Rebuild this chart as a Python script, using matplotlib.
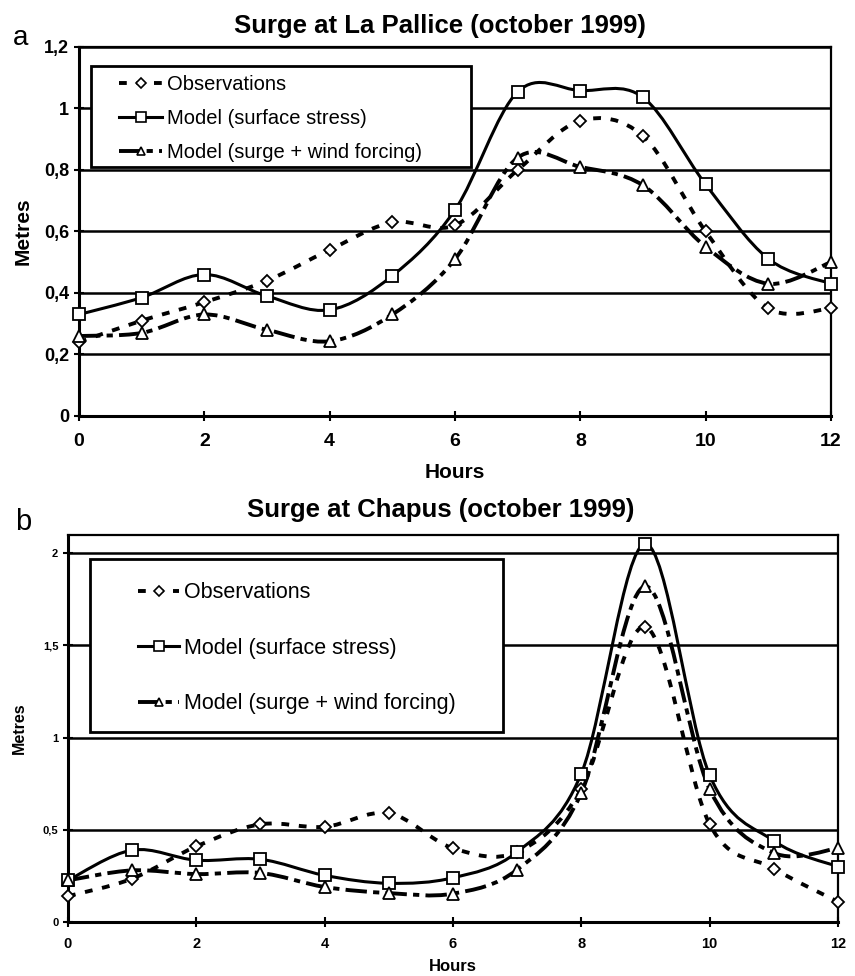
import matplotlib
matplotlib.use("Agg")
import matplotlib.pyplot as plt
import numpy as np
from matplotlib.path import Path
from matplotlib.patches import PathPatch, Rectangle
from matplotlib.lines import Line2D

plt.rcParams['font.family'] = ['Liberation Sans', 'DejaVu Sans']

hours = list(range(13))

# La Pallice (panel a)
pallice_obs = [0.24, 0.31, 0.37, 0.44, 0.54, 0.63, 0.62, 0.80, 0.96, 0.91, 0.60, 0.35, 0.35]
pallice_stress = [0.33, 0.385, 0.46, 0.39, 0.345, 0.456, 0.67, 1.054, 1.058, 1.036, 0.753, 0.511, 0.43]
pallice_wind = [0.26, 0.27, 0.33, 0.28, 0.243, 0.33, 0.51, 0.84, 0.81, 0.75, 0.55, 0.43, 0.50]
pallice_yticks = [0, 0.2, 0.4, 0.6, 0.8, 1.0, 1.2]
pallice_ylabels = ['0', '0,2', '0,4', '0,6', '0,8', '1', '1,2']

# Chapus (panel b)
chapus_obs = [0.14, 0.235, 0.41, 0.53, 0.516, 0.59, 0.40, 0.38, 0.72, 1.60, 0.53, 0.29, 0.11]
chapus_stress = [0.226, 0.39, 0.335, 0.34, 0.253, 0.21, 0.24, 0.38, 0.805, 2.05, 0.796, 0.44, 0.30]
chapus_wind = [0.226, 0.28, 0.26, 0.266, 0.19, 0.157, 0.154, 0.284, 0.70, 1.82, 0.72, 0.375, 0.40]
chapus_yticks = [0, 0.5, 1, 1.5, 2]
chapus_ylabels = ['0', '0,5', '1', '1,5', '2']

xticks = [0, 2, 4, 6, 8, 10, 12]
labels = ['Observations', 'Model (surface stress)', 'Model (surge + wind forcing)']

styles = [
    dict(lw=2.8, ls=(0, (2.0, 2.5)), marker='D', ms=6.5),
    dict(lw=2.2, ls='-', marker='s', ms=9),
    dict(lw=2.8, ls=(0, (5.5, 1.6, 1.6, 1.6)), marker='^', ms=8),
]


def smooth_path(x, y):
    # Excel-like smoothed line: cubic Bezier segments through the points
    x = np.asarray(x, float)
    y = np.asarray(y, float)
    xp = np.r_[x[0], x, x[-1]]
    yp = np.r_[y[0], y, y[-1]]
    verts = [(x[0], y[0])]
    codes = [Path.MOVETO]
    for i in range(len(x) - 1):
        c1 = (x[i] + (xp[i + 2] - xp[i]) / 6, y[i] + (yp[i + 2] - yp[i]) / 6)
        c2 = (x[i + 1] - (xp[i + 3] - xp[i + 1]) / 6, y[i + 1] - (yp[i + 3] - yp[i + 1]) / 6)
        verts += [c1, c2, (x[i + 1], y[i + 1])]
        codes += [Path.CURVE4] * 3
    return Path(verts, codes)


def draw_panel(ax, series, ylim, yticks, ylabels, tick_fs, label_fs, tick_pad, label_xy,
               box, leg_fs, leg_space, anchor, hlen, hpad):
    for vals, st in zip(series, styles):
        ax.add_patch(PathPatch(smooth_path(hours, vals), fill=False, edgecolor='black',
                               lw=st['lw'], ls=st['ls'], capstyle='butt', zorder=3))
        ax.plot(hours, vals, ls='none', marker=st['marker'], ms=st['ms'], mfc='white',
                mec='black', mew=1.3, zorder=4, clip_on=False)
    ax.set_xlim(0, 12)
    ax.set_ylim(*ylim)
    ax.set_xticks(xticks)
    ax.set_xticklabels([str(t) for t in xticks], fontsize=tick_fs[0], fontweight='bold')
    ax.set_yticks(yticks)
    ax.set_yticklabels(ylabels, fontsize=tick_fs[1], fontweight='bold')
    ax.yaxis.grid(True, color='black', lw=1.8)
    ax.set_axisbelow(True)
    ax.tick_params(direction='inout', length=7, width=1.5)
    ax.tick_params(axis='x', pad=tick_pad)
    for s in ['left', 'bottom']:
        ax.spines[s].set_linewidth(2.2)
    for s in ['top', 'right']:
        ax.spines[s].set_linewidth(1.6)
    ax.set_xlabel('Hours', fontsize=label_fs[0], fontweight='bold', va='center')
    ax.set_ylabel('Metres', fontsize=label_fs[1], fontweight='bold', va='center')
    ax.xaxis.set_label_coords(0.5, label_xy[1])
    ax.yaxis.set_label_coords(label_xy[0], 0.5)

    ax.add_patch(Rectangle((box[0], box[1]), box[2] - box[0], box[3] - box[1],
                           transform=ax.transAxes, facecolor='white', edgecolor='black',
                           lw=2.0, zorder=5))
    handles = [Line2D([], [], color='black', lw=st['lw'], ls=st['ls'], marker=st['marker'],
                      ms=st['ms'] * 0.75, mfc='white', mec='black', mew=1.2) for st in styles]
    leg = ax.legend(handles, labels, loc='upper left', bbox_to_anchor=anchor, frameon=False,
                    fontsize=leg_fs, labelspacing=leg_space, handlelength=hlen,
                    handletextpad=hpad, numpoints=1, borderaxespad=0)
    leg.set_zorder(6)


fig = plt.figure(figsize=(8.55, 9.76), dpi=100)

ax1 = fig.add_axes([0.0924, 0.5738, 0.8795, 0.3781])
draw_panel(ax1, [pallice_obs, pallice_stress, pallice_wind], (0, 1.2),
           pallice_yticks, pallice_ylabels, (14, 13), (15, 15), 9, (-0.0745, -0.154),
           (0.016, 0.676, 0.521, 0.949), 14.5, 0.75, (0.043, 0.946), 2.1, 0.25)

ax2 = fig.add_axes([0.0795, 0.0553, 0.9006, 0.3965])
draw_panel(ax2, [chapus_obs, chapus_stress, chapus_wind], (0, 2.098),
           chapus_yticks, chapus_ylabels, (10.5, 8), (12, 11.5), 7, (-0.0636, -0.114),
           (0.028, 0.49, 0.565, 0.938), 15.5, 1.6, (0.080, 0.9), 1.9, 0.23)

fig.text(0.515, 0.973, 'Surge at La Pallice (october 1999)', ha='center', va='center',
         fontsize=18.5, fontweight='bold')
fig.text(0.515, 0.477, 'Surge at Chapus (october 1999)', ha='center', va='center',
         fontsize=18.5, fontweight='bold')
fig.text(0.024, 0.961, 'a', ha='center', va='center', fontsize=20)
fig.text(0.027, 0.465, 'b', ha='center', va='center', fontsize=21)

fig.savefig('out.png', dpi=100)
